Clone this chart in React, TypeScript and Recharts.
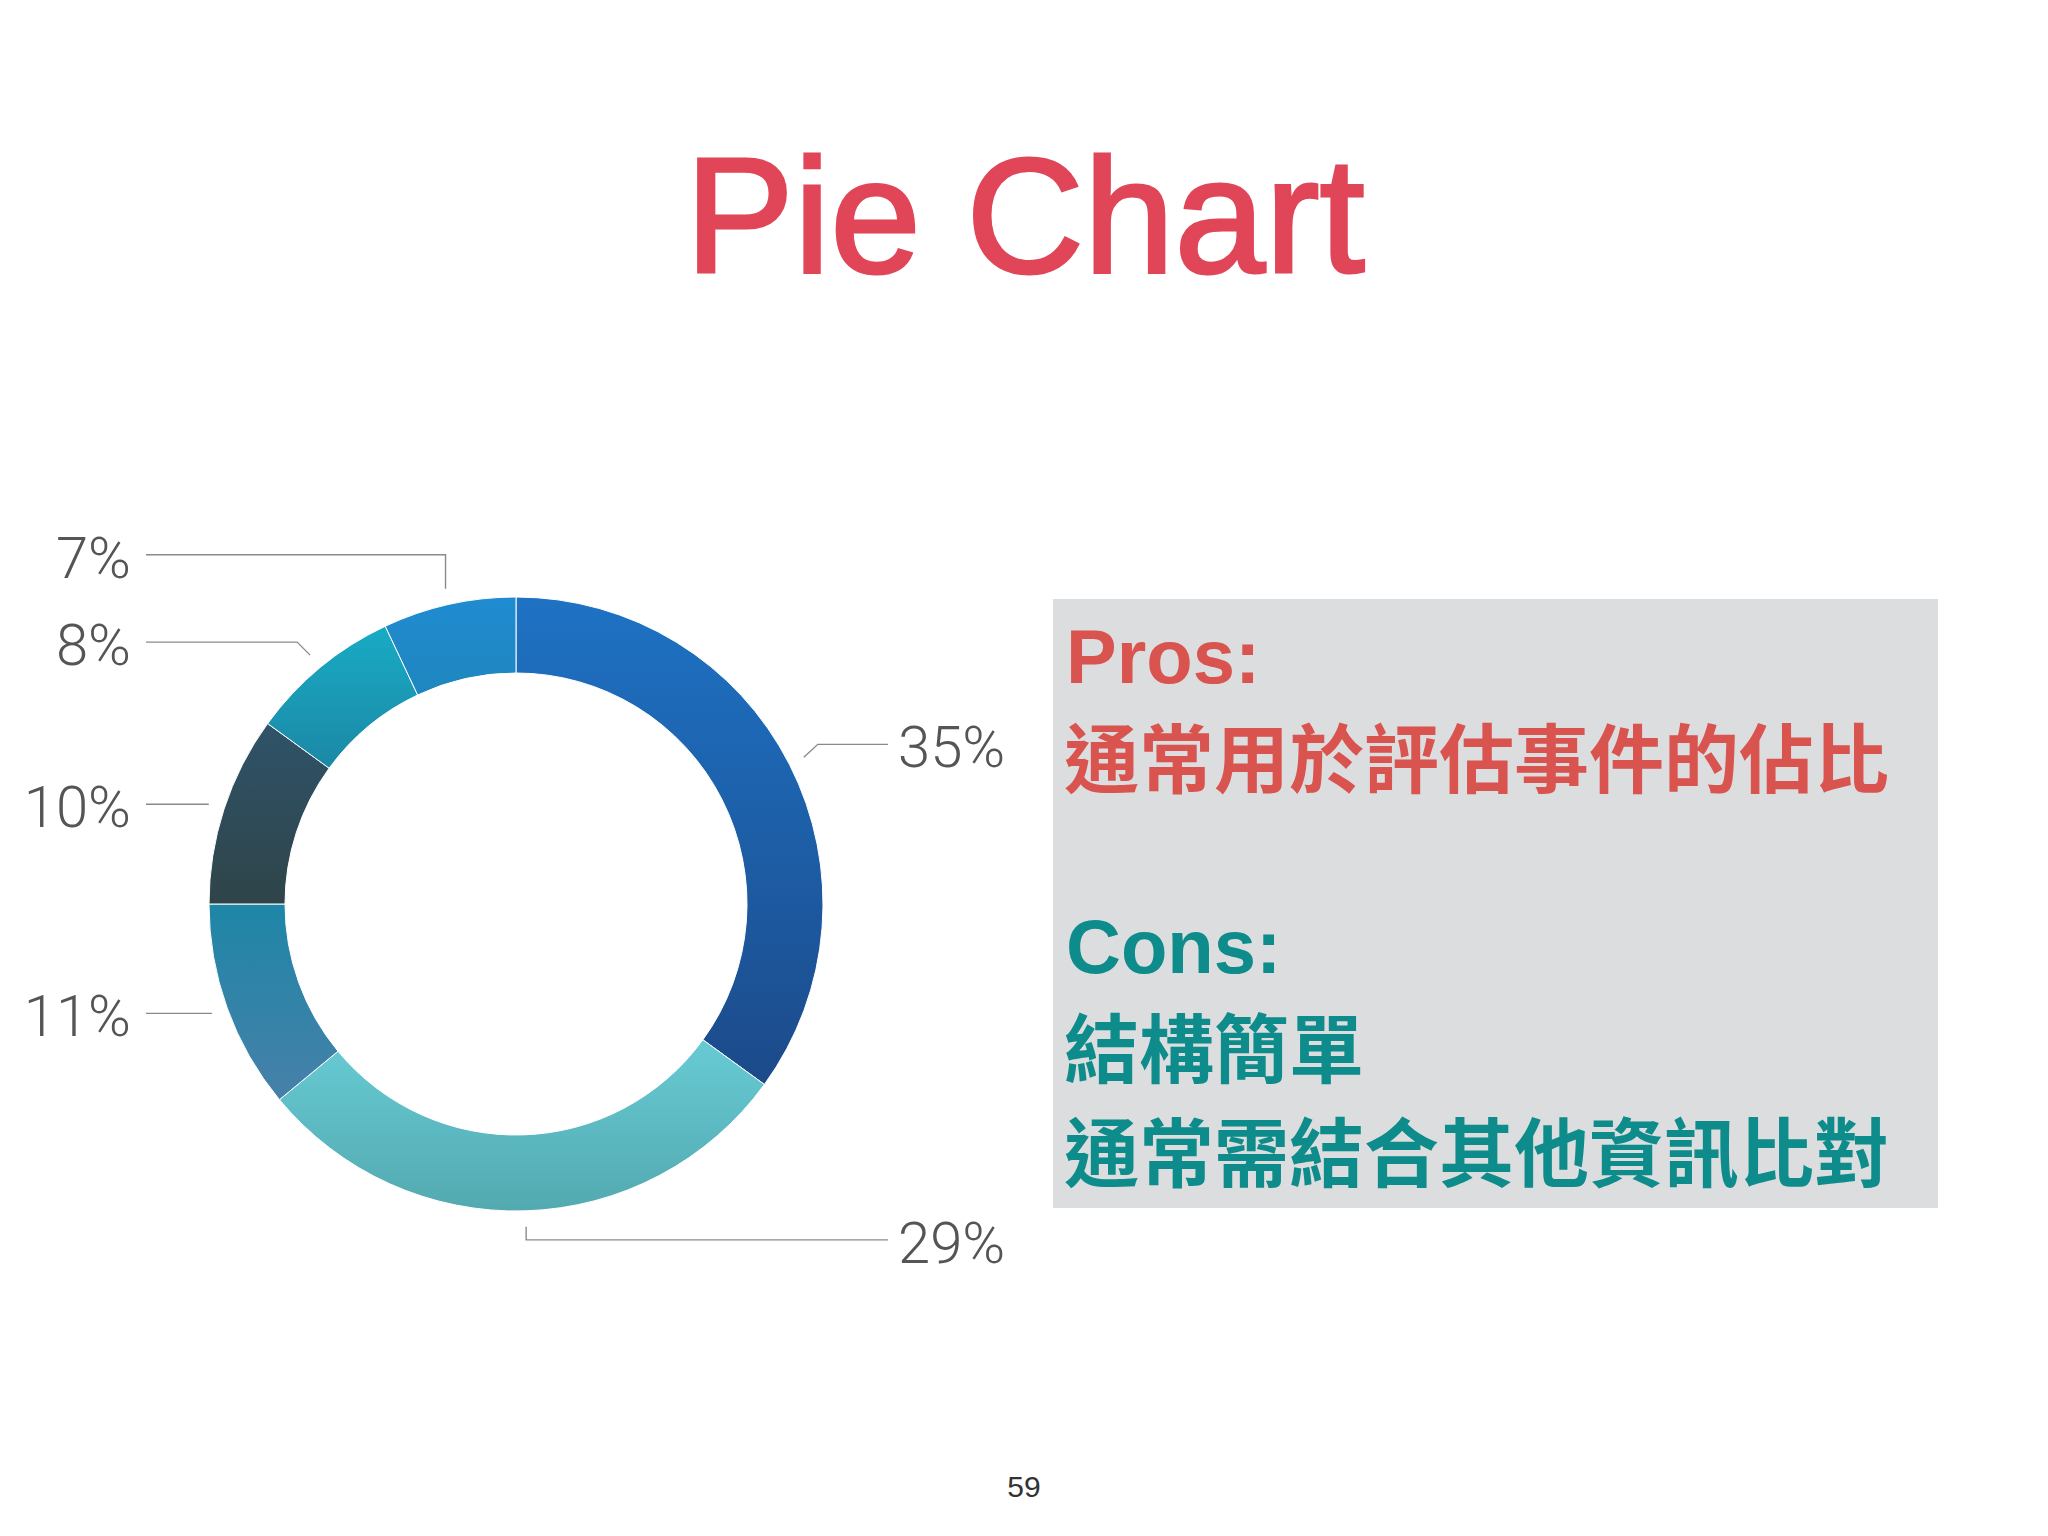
import React from "react";
import { PieChart, Pie, Cell } from "recharts";

// slices, clockwise from 12 o'clock
const sliceNames = ["a", "b", "c", "d", "e", "f"];
const sliceValues = [35, 29, 11, 10, 8, 7];

// vertical gradient per slice (top -> bottom)
const topColors = ["#1E72C4", "#67CBD4", "#1E86A7", "#2F5369", "#19ABC4", "#1F8BD1"];
const bottomColors = ["#1C4A8A", "#53A9B0", "#4780A9", "#2F4449", "#1B88A6", "#1F86BE"];

// leader line bend (dx, dy) after leaving the ring
const LEADER_BENDS: [number, number][] = [
    [14, -13],
    [0, 13],
    [0, 0],
    [0, 0],
    [-13, -13],
    [0, -34],
];
const LEADER_GAP = 16;
const RAD = Math.PI / 180;

const pieData = sliceNames.map((name, i) => ({ name, value: sliceValues[i] }));

function renderLabel(props: any) {
    const { cx, cy, midAngle, outerRadius, index, percent } = props;
    const a = -midAngle * RAD;
    const r = outerRadius + LEADER_GAP;
    const sx = cx + r * Math.cos(a);
    const sy = cy + r * Math.sin(a);
    const [bx, by] = LEADER_BENDS[index] || [0, 0];
    const ex = sx + bx;
    const ey = sy + by;
    const right = Math.cos(a) > 0;
    const lx = right ? cx + 372 : cx - 370;
    const tx = right ? cx + 382 : cx - 385;

    return (
        <g key={`lbl-${index}`}>
            <polyline
                points={`${sx},${sy} ${ex},${ey} ${lx},${ey}`}
                fill="none"
                stroke="#8a8a8a"
                strokeWidth={1.4}
            />
            <text
                x={tx}
                y={ey + 3}
                textAnchor={right ? "start" : "end"}
                dominantBaseline="central"
                fill="#555555"
                style={{ fontFamily: "Roboto, 'Liberation Sans', sans-serif", fontWeight: 300, fontSize: 58 }}
            >
                {`${Math.round(percent * 100)}%`}
            </text>
        </g>
    );
}

export default function App() {
    const cjk = "'Noto Sans CJK TC', 'Noto Sans CJK SC', sans-serif";
    const latin = "'Liberation Sans', Arial, sans-serif";
    const red = "#D9534F";
    const teal = "#0E8C8B";

    return (
        <div
            style={{
                position: "absolute",
                left: 0,
                top: 0,
                width: 2048,
                height: 1536,
                background: "#ffffff",
                overflow: "hidden",
            }}
        >
            <div
                style={{
                    position: "absolute",
                    left: 0,
                    width: 2050,
                    top: 134,
                    textAlign: "center",
                    fontFamily: latin,
                    fontSize: 163,
                    lineHeight: 1,
                    color: "#E04558",
                    WebkitTextStroke: "3px #E04558",
                }}
            >
                Pie Chart
            </div>

            <div
                style={{
                    position: "absolute",
                    left: 1053,
                    top: 599,
                    width: 885,
                    height: 609,
                    background: "#DCDDDF",
                }}
            />
            <div style={{ position: "absolute", left: 1066, top: 619, fontFamily: latin, fontWeight: 700, fontSize: 76, lineHeight: 1, color: red }}>
                Pros:
            </div>
            <div style={{ position: "absolute", left: 1064, top: 717, fontFamily: cjk, fontWeight: 700, fontSize: 75, lineHeight: 1, color: red, whiteSpace: "nowrap" }}>
                通常用於評估事件的佔比
            </div>
            <div style={{ position: "absolute", left: 1066, top: 909, fontFamily: latin, fontWeight: 700, fontSize: 76, lineHeight: 1, color: teal }}>
                Cons:
            </div>
            <div style={{ position: "absolute", left: 1064, top: 1007, fontFamily: cjk, fontWeight: 700, fontSize: 75, lineHeight: 1, color: teal, whiteSpace: "nowrap" }}>
                結構簡單
            </div>
            <div style={{ position: "absolute", left: 1064, top: 1111, fontFamily: cjk, fontWeight: 700, fontSize: 75, lineHeight: 1, color: teal, whiteSpace: "nowrap" }}>
                通常需結合其他資訊比對
            </div>

            <div
                style={{
                    position: "absolute",
                    left: 0,
                    width: 2048,
                    top: 1472,
                    textAlign: "center",
                    fontFamily: latin,
                    fontSize: 30,
                    lineHeight: 1,
                    color: "#333333",
                }}
            >
                59
            </div>

            <div style={{ position: "absolute", left: 0, top: 0 }}>
                <PieChart width={1040} height={1300}>
                    <defs>
                        {sliceNames.map((n, i) => (
                            <linearGradient key={n} id={`grad-${n}`} x1="0" y1="0" x2="0" y2="1">
                                <stop offset="0%" stopColor={topColors[i]} />
                                <stop offset="100%" stopColor={bottomColors[i]} />
                            </linearGradient>
                        ))}
                    </defs>
                    <Pie
                        data={pieData}
                        dataKey="value"
                        nameKey="name"
                        cx={511}
                        cy={899}
                        innerRadius={231}
                        outerRadius={307}
                        startAngle={90}
                        endAngle={-270}
                        stroke="#ffffff"
                        strokeWidth={1}
                        label={renderLabel}
                        labelLine={false}
                        isAnimationActive={false}
                    >
                        {sliceNames.map((n) => (
                            <Cell key={n} fill={`url(#grad-${n})`} />
                        ))}
                    </Pie>
                </PieChart>
            </div>
        </div>
    );
}
